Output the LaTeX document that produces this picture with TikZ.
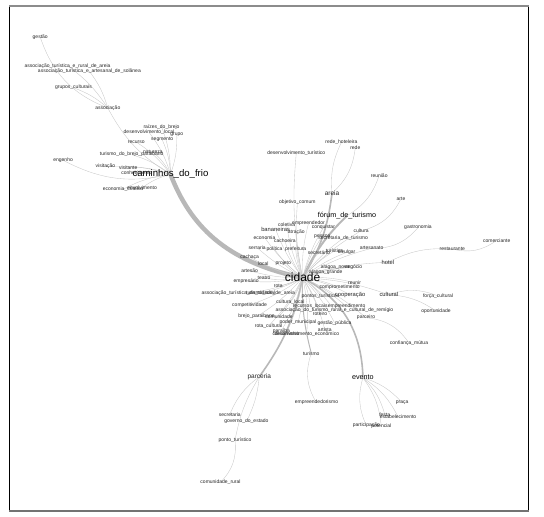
\documentclass[tikz,border=0pt]{standalone}
\usepackage{fontspec}
\setmainfont{Liberation Sans}
\usetikzlibrary{backgrounds}

\begin{document}
\begin{tikzpicture}[
	x=1pt, y=-1pt,
	w/.style={
		inner sep=0.3pt, text=black!85,
		font=\fontsize{5}{6}\selectfont
	},
	wm/.style={w, font=\fontsize{6.5}{7}\selectfont},
	wl/.style={w, text=black, font=\fontsize{7.2}{8}\selectfont},
	wxl/.style={w, text=black, font=\fontsize{9.6}{10}\selectfont},
	whub/.style={w, text=black, font=\fontsize{12}{13}\selectfont},
	ln/.style={draw=black!22, line width=0.35pt},
	lnm/.style={draw=black!28, line width=1.6pt},
	lnb/.style={draw=black!28, line width=4.5pt},
	]
	
	% page and frame
	\useasboundingbox (0,0) rectangle (544,517);
	\draw[black, line width=0.8pt] (9.4,6) rectangle (528.5,511);
	\draw[black!45, line width=1.6pt] (9.4,6) -- (528.5,6);
	\draw[black!55, line width=1.2pt] (9.4,511) -- (528.5,511);
	
	% hub
	\node[whub] (cidade) at (302.6,277.7) {cidade};
	
	% top-left cluster
	\node[wxl] (caminhos)   at (170.5,174.3) {caminhos\_do\_frio};
	\node[w] (gestao)       at (40.2,37)     {gestão};
	\node[w] (assocrural)   at (67.6,65.7)   {associação\_turística\_e\_rural\_de\_areia};
	\node[w] (assocartes)   at (89.4,71.3)   {associação\_turística\_e\_artesanal\_de\_solânea};
	\node[w] (gruposcult)   at (73.5,87.7)   {grupos\_culturais};
	\node[w] (associacao)   at (107.8,108)   {associação};
	\node[w] (raizes)       at (161.5,126.7) {raízes\_do\_brejo};
	\node[w] (desenvlocal)  at (149,132.3)   {desenvolvimento\_local};
	\node[w] (grupo)        at (176.8,134.7) {grupo};
	\node[w] (segmento)     at (162.2,139.7) {segmento};
	\node[w] (recurso)      at (136.2,142)   {recurso};
	\node[w] (natureza)     at (152.9,151.7) {natureza};
	\node[w] (turbrejo)     at (131.7,154.7) {turismo\_do\_brejo\_paraibano};
	\node[w] (engenho)      at (63.1,160.3)  {engenho};
	\node[w] (visitacao)    at (105.4,166.7) {visitação};
	\node[w] (visitante)    at (128.2,167.3) {visitante};
	\node[w] (conhecimento) at (136.9,172.3) {conhecimento};
	\node[w] (econcriativa) at (123,189.3)   {economia\_criativa};
	\node[w] (envolvimento) at (142.1,187.7) {envolvimento};
	
	% upper right
	\node[w] (redehot)      at (341.4,142.3) {rede\_hoteleira};
	\node[w] (rede)         at (355.3,147.7) {rede};
	\node[w] (desenvtur)    at (296.3,152.7) {desenvolvimento\_turístico};
	\node[w] (reuniao)      at (379.2,175.3) {reunião};
	\node[wm] (areia)       at (332,193.3)   {areia};
	\node[w] (arte)         at (401,198.7)   {arte};
	\node[w] (objetivo)     at (297.4,202.3) {objetivo\_comum};
	\node[wl] (forum)       at (347,215.7)   {fórum\_de\_turismo};
	\node[w] (gastronomia)  at (418,227.7)   {gastronomia};
	\node[w] (comerciante)  at (496.7,240.3) {comerciante};
	\node[w] (restaurante)  at (452.3,249)   {restaurante};
	\node[w] (cultura)      at (361.2,230.7) {cultura};
	\node[w] (artesanato)   at (371.6,248.3) {artesanato};
	\node[w, font=\fontsize{5.8}{6}\selectfont] (hotel) at (387.9,262.3) {hotel};
	\node[w, font=\fontsize{5.8}{6}\selectfont] (cultural) at (388.9,294.7) {cultural};
	\node[w] (forca)        at (438.1,296)   {força\_cultural};
	\node[w] (oportunidade) at (436,311)     {oportunidade};
	\node[w] (parceiro)     at (366,317.7)   {parceiro};
	\node[w] (confianca)    at (409,343)     {confiança\_mútua};
	
	% bottom
	\node[w] (turismo)      at (311.3,353.3) {turismo};
	\node[wm] (parceria)    at (259.3,376.7) {parceria};
	\node[wl] (evento)      at (362.9,377.7) {evento};
	\node[w] (empreendism)  at (316.5,402.7) {empreendedorismo};
	\node[w] (praca)        at (402.1,402.7) {praça};
	\node[w] (festa)        at (384.7,414.3) {festa};
	\node[w] (estab)        at (398,416.7)   {estabelecimento};
	\node[w] (participacao) at (366.4,425.7) {participação};
	\node[w] (potencial)    at (381.3,426.7) {potencial};
	\node[w] (secretaria)   at (229.8,414.3) {secretaria};
	\node[w] (governo)      at (246.4,421.7) {governo\_do\_estado};
	\node[w] (ponto)        at (235,440.3)   {ponto\_turístico};
	\node[w] (comunrural)   at (220.5,482.3) {comunidade\_rural};
	
	% centre around cidade
	\node[w] (empreendedor) at (308.5,223.3) {empreendedor};
	\node[w] (coletiva)     at (286.6,225)   {coletiva};
	\node[w, font=\fontsize{5.8}{6}\selectfont] (bananeiras) at (275.6,229.3) {bananeiras};
	\node[w] (atracao)      at (296.3,232.3) {atração};
	\node[w] (conquistar)   at (323.4,227.7) {conquistar};
	\node[w] (economia)     at (264.5,237.3) {economia};
	\node[w] (pessoa)       at (322.3,236.3) {pessoa};
	\node[w] (cachoeira)    at (284.9,241)   {cachoeira};
	\node[w] (sectur)       at (343.1,238.3) {secretaria\_de\_turismo};
	\node[w] (serraria)     at (257.2,247.7) {serraria};
	\node[w] (politica)     at (274.5,249.3) {política};
	\node[w] (prefeitura)   at (295.7,249.3) {prefeitura};
	\node[w] (secretario)   at (318.9,252.3) {secretário};
	\node[w] (turistica)    at (334.5,250.7) {turística};
	\node[w] (divulgar)     at (346.6,252.3) {divulgar};
	\node[w] (cachaca)      at (249.6,257)   {cachaça};
	\node[w] (local)        at (263.4,263.7) {local};
	\node[w] (projeto)      at (283.2,263)   {projeto};
	\node[w] (artesao)      at (249.6,270.7) {artesão};
	\node[w] (alagoanova)   at (335.2,267.7) {alagoa\_nova};
	\node[w] (negocio)      at (353.5,267.3) {negócio};
	\node[w] (alagoagrande) at (325.8,272.7) {alagoa\_grande};
	\node[w] (teatro)       at (264.1,278.3) {teatro};
	\node[w] (empresario)   at (246.1,281)   {empresário};
	\node[w] (rota)         at (278.3,286)   {rota};
	\node[w] (reunir)       at (354.6,282.7) {reunir};
	\node[w] (comprom)      at (339.7,287.7) {comprometimento};
	\node[w] (assoccidade)  at (248.2,293)   {associação\_turística\_da\_cidade\_de\_areia};
	\node[w] (turrural)     at (260.7,293)   {turismo\_rural};
	\node[w] (pontos)       at (320.6,296)   {pontos\_turísticos};
	\node[w, font=\fontsize{5.8}{6}\selectfont] (cooperacao) at (350.1,294.7) {cooperação};
	\node[w] (competitiv)   at (249.6,305)   {competitividade};
	\node[w] (culturalocal) at (290.5,302.3) {cultura\_local};
	\node[w] (recursos)     at (310.2,305.7) {recursos\_locais};
	\node[w] (empreendim)   at (346.6,306.7) {empreendimento};
	\node[w] (assocremigio) at (334.5,310)   {associação\_do\_turismo\_rural\_e\_cultural\_de\_remígio};
	\node[w] (roteiro)      at (320,313.3)   {roteiro};
	\node[w] (brejo)        at (256.5,316.7) {brejo\_paraibano};
	\node[w] (comunidade)   at (279,316.7)   {comunidade};
	\node[w] (rotacult)     at (268.6,326)   {rota\_cultural};
	\node[w] (poder)        at (298,322.7)   {poder\_municipal};
	\node[w] (gestaopub)    at (334.5,322.7) {gestão\_pública};
	\node[w] (paraiba)      at (281.4,330.7) {paraíba};
	\node[w] (artista)      at (324.8,329.7) {artista};
	\node[w] (crescimento)  at (286,333.7)   {crescimento};
	\node[w] (deseco)       at (306.8,333.7) {desenvolvimento\_econômico};
	
	\begin{scope}[on background layer]
		% strong links from cidade
		\draw[lnb] (caminhos.center) .. controls (190,225) and (225,262) .. (cidade.center);
		\draw[lnm] (cidade.center) to[bend right=12] (areia.center);
		\draw[lnm, line width=2pt] (cidade.center) to[bend left=10] (forum.center);
		\draw[lnm] (cidade.center) to[bend left=12] (parceria.center);
		\draw[lnm] (cidade.center) .. controls (345,300) and (362,335) .. (evento.center);
		\draw[lnm, line width=1pt] (cidade.center) to[bend right=8] (turismo.center);
		
		% weak links from cidade
		\foreach \n in {empreendedor, coletiva, bananeiras, atracao, conquistar,
			economia, pessoa, cachoeira, sectur, serraria, politica, prefeitura,
			secretario, turistica, divulgar, cachaca, local, projeto, artesao,
			alagoanova, negocio, alagoagrande, teatro, empresario, rota, reunir,
			comprom, assoccidade, turrural, pontos, cooperacao, competitiv,
			culturalocal, recursos, empreendim, assocremigio, roteiro, brejo,
			comunidade, rotacult, poder, gestaopub, paraiba, artista, crescimento,
			deseco, cultura, artesanato, hotel, cultural, parceiro, objetivo,
			desenvtur}
			\draw[ln] (cidade.center) to[bend left=8] (\n.center);
		
		% caminhos_do_frio branch
		\foreach \n in {raizes, desenvlocal, grupo, segmento, recurso, natureza,
			turbrejo, visitacao, visitante, conhecimento, econcriativa, envolvimento}
			\draw[ln] (caminhos.center) to[bend right=10] (\n.center);
		\draw[ln] (caminhos.center) to[bend left=15] (associacao.center);
		\draw[ln] (caminhos.center) to[bend left=20] (engenho.center);
		\foreach \n in {gruposcult, assocrural, assocartes}
			\draw[ln] (associacao.center) to[bend right=10] (\n.center);
		\draw[ln] (associacao.center) to[bend left=25] (gestao.center);
		
		% other branches
		\draw[ln] (areia.center) to[bend left=15] (redehot.center);
		\draw[ln] (areia.center) to[bend right=20] (rede.center);
		\draw[ln] (forum.center) to[bend right=20] (reuniao.center);
		\draw[ln] (cultura.center) to[bend right=25] (arte.center);
		\draw[ln] (artesanato.center) to[bend right=25] (gastronomia.center);
		\draw[ln] (hotel.center) to[bend left=15] (restaurante.center);
		\draw[ln] (restaurante.center) to[bend right=25] (comerciante.center);
		\draw[ln] (cultural.center) to[bend left=20] (forca.center);
		\draw[ln] (cultural.center) to[bend left=15] (oportunidade.center);
		\draw[ln] (parceiro.center) to[bend left=25] (confianca.center);
		\draw[ln] (turismo.center) to[bend right=25] (empreendism.center);
		\foreach \n in {praca, festa, estab, potencial}
			\draw[ln] (evento.center) to[bend left=15] (\n.center);
		\draw[ln] (evento.center) to[bend right=20] (participacao.center);
		\draw[ln] (parceria.center) to[bend right=15] (secretaria.center);
		\draw[ln] (parceria.center) to[bend left=10] (governo.center);
		\draw[ln] (parceria.center) to[bend right=10] (ponto.center);
		\draw[ln] (ponto.center) to[bend left=25] (comunrural.center);
	\end{scope}
	
\end{tikzpicture}
\end{document}
